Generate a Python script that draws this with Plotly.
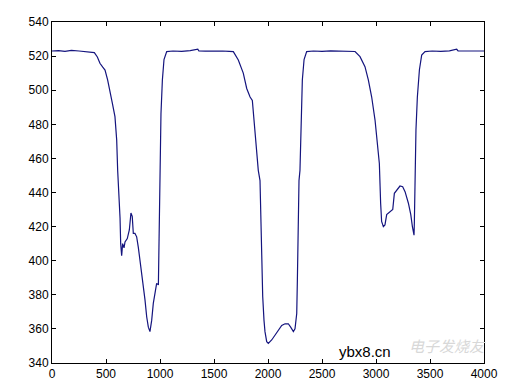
import plotly.graph_objects as go

# Trace data
x_vals = [0, 60, 120, 180, 250, 300, 360, 392, 420, 444, 470, 491, 515, 537, 560, 583, 599, 608,
          614, 620, 630, 636, 645, 654, 667, 676, 697, 716, 731, 743, 753, 768, 784, 799, 815,
          830, 846, 861, 877, 892, 907, 923, 938, 954, 969, 985, 991, 994, 1000, 1009, 1022,
          1037, 1062, 1120, 1200, 1280, 1350, 1360, 1420, 1500, 1580, 1640, 1679, 1725, 1771,
          1803, 1834, 1855, 1865, 1880, 1895, 1910, 1926, 1932, 1941, 1951, 1963, 1972, 1988,
          2003, 2034, 2065, 2096, 2127, 2158, 2188, 2210, 2235, 2250, 2266, 2272, 2281, 2287,
          2296, 2306, 2318, 2334, 2358, 2420, 2500, 2580, 2660, 2740, 2806, 2852, 2898, 2929,
          2960, 2991, 3012, 3031, 3043, 3052, 3068, 3083, 3099, 3130, 3155, 3170, 3192, 3222,
          3247, 3269, 3300, 3322, 3337, 3352, 3355, 3361, 3370, 3383, 3402, 3423, 3454, 3520,
          3600, 3680, 3747, 3760, 3840, 3920, 4000]
y_vals = [523, 523.2, 522.8, 523.3, 523, 522.8, 522.5, 522, 519.5, 515.8, 513.5, 511.8, 506, 500,
          492, 484.5, 470.8, 453, 447, 437.5, 425, 410, 403, 410, 407.5, 411, 413, 418, 428, 426,
          416, 416, 414, 408, 400.4, 391.6, 386.7, 377, 367, 361, 358.4, 365, 375, 382.8, 386.7,
          385.8, 408, 428, 447, 486, 506, 518, 522.6, 523, 522.8, 523.2, 524, 523, 522.9, 523.1,
          523, 522.8, 522.6, 517.7, 510, 501, 496, 494, 486, 473, 461, 453, 447, 428, 398.5, 379,
          365, 358.4, 352.5, 351.5, 353.5, 356.4, 359.4, 362, 363, 363, 361, 358.4, 360, 369,
          388.7, 418, 447, 453, 476.6, 506, 518, 522.6, 523, 522.8, 523.1, 523, 522.9, 522.7,
          519.7, 513.8, 506, 496, 482.5, 470.8, 457, 433.7, 423, 420, 421, 427, 428.8, 430, 439.5,
          441.5, 443.8, 443.4, 440.5, 433.7, 427, 420, 415, 422, 451, 476.7, 496, 512, 520.6,
          522.6, 523, 522.8, 523.1, 524, 523, 523, 523, 523]

x_ticks = [0, 500, 1000, 1500, 2000, 2500, 3000, 3500, 4000]
y_ticks = [340, 360, 380, 400, 420, 440, 460, 480, 500, 520, 540]

fig = go.Figure()
fig.add_trace(go.Scatter(x=x_vals, y=y_vals, mode="lines",
                         line=dict(color="#14147e", width=1.2), showlegend=False))

axis_common = dict(showgrid=False, zeroline=False, showline=True, linecolor="black",
                   linewidth=1, mirror="ticks", ticks="inside", ticklen=4, automargin=False,
                   tickcolor="black", tickfont=dict(family="Liberation Sans, Arial", size=12,
                                                    color="black"))
fig.update_xaxes(range=[0, 4000], tickvals=x_ticks, **axis_common)
fig.update_yaxes(range=[340, 540], tickvals=y_ticks, **axis_common)

fig.add_annotation(x=2900, y=340.5, xref="x", yref="y", text="ybx8.cn", showarrow=False,
                   xanchor="center", yanchor="bottom",
                   font=dict(family="Liberation Sans, Arial", size=15, color="black"))
fig.add_annotation(x=3660, y=343, xref="x", yref="y", text="<i>电子发烧友</i>", showarrow=False,
                   xanchor="center", yanchor="bottom",
                   font=dict(family="Noto Sans CJK SC", size=15, color="#d8d8d8"))

# page body has an 8px margin; offset layout accordingly
fig.update_layout(width=506, height=380, margin=dict(l=44, r=30, t=14, b=25),
                  paper_bgcolor="white", plot_bgcolor="white")
fig.write_html("out.html")
